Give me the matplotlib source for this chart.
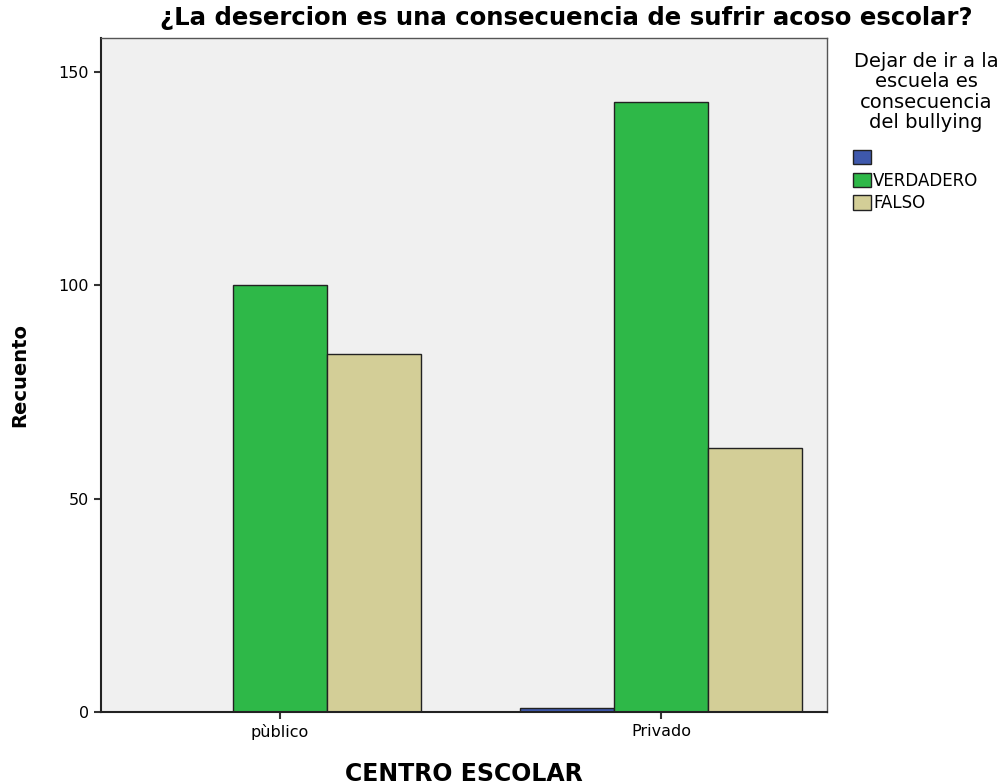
import numpy as np
import matplotlib.pyplot as plt
from matplotlib.patches import Patch

plt.rcParams['font.family'] = ['DejaVu Sans']

# data
centros = ['pùblico', 'Privado']
serie_vacia = [0, 1]
verdadero = [100, 143]
falso = [84, 62]
leyenda = ['', 'VERDADERO', 'FALSO']
colores = ['#3E58AC', '#2EB848', '#D3CE97']

W, H = 1005, 784
fig = plt.figure(figsize=(W / 100, H / 100), dpi=100)
ax = fig.add_axes([101 / W, 1 - 712 / H, (827 - 101) / W, (712 - 38) / H])
ax.set_facecolor('#F0F0F0')

x = np.arange(len(centros))
w = 0.247
series = [serie_vacia, verdadero, falso]
for i, vals in enumerate(series):
    ax.bar(x + (i - 1) * w, vals, width=w, color=colores[i],
           edgecolor='#222222', linewidth=1, label=leyenda[i])

ax.set_xlim(-0.47, 1.436)
ax.set_ylim(0, 158)
ax.set_yticks([0, 50, 100, 150])
ax.set_xticks(x)
ax.set_xticklabels(centros)
ax.tick_params(axis='both', labelsize=11.5, length=5, width=1.5, color='#333333')

for s in ax.spines.values():
    s.set_color('#555555')
    s.set_linewidth(1)
ax.spines['left'].set_color('#222222')
ax.spines['left'].set_linewidth(1.5)
ax.spines['bottom'].set_color('#222222')
ax.spines['bottom'].set_linewidth(1.5)

ax.set_ylabel('Recuento', fontsize=14, fontweight='bold', va='center')
ax.yaxis.set_label_coords((20 - 101) / 726, 0.5)
ax.set_xlabel('CENTRO ESCOLAR', fontsize=17, fontweight='bold', va='center')
ax.xaxis.set_label_coords(0.5, -(774 - 712) / 674)

fig.text(566 / W, 1 - 18 / H, '¿La desercion es una consecuencia de sufrir acoso escolar?',
         ha='center', va='center', fontsize=17.6, fontweight='bold')

# legend title
fig.text(926 / W, 1 - 92 / H, 'Dejar de ir a la\nescuela es\nconsecuencia\ndel bullying',
         ha='center', va='center', fontsize=14, linespacing=1.1)

handles = [Patch(facecolor=c, edgecolor='#222222', linewidth=1) for c in colores]
fig.legend(handles, leyenda, loc='upper left', bbox_to_anchor=(853 / W, 1 - 149 / H),
           frameon=False, fontsize=12, handlelength=1.05, handleheight=0.95,
           handletextpad=0.15, labelspacing=0.28, borderpad=0, borderaxespad=0)

fig.savefig('out.png', dpi=100)
